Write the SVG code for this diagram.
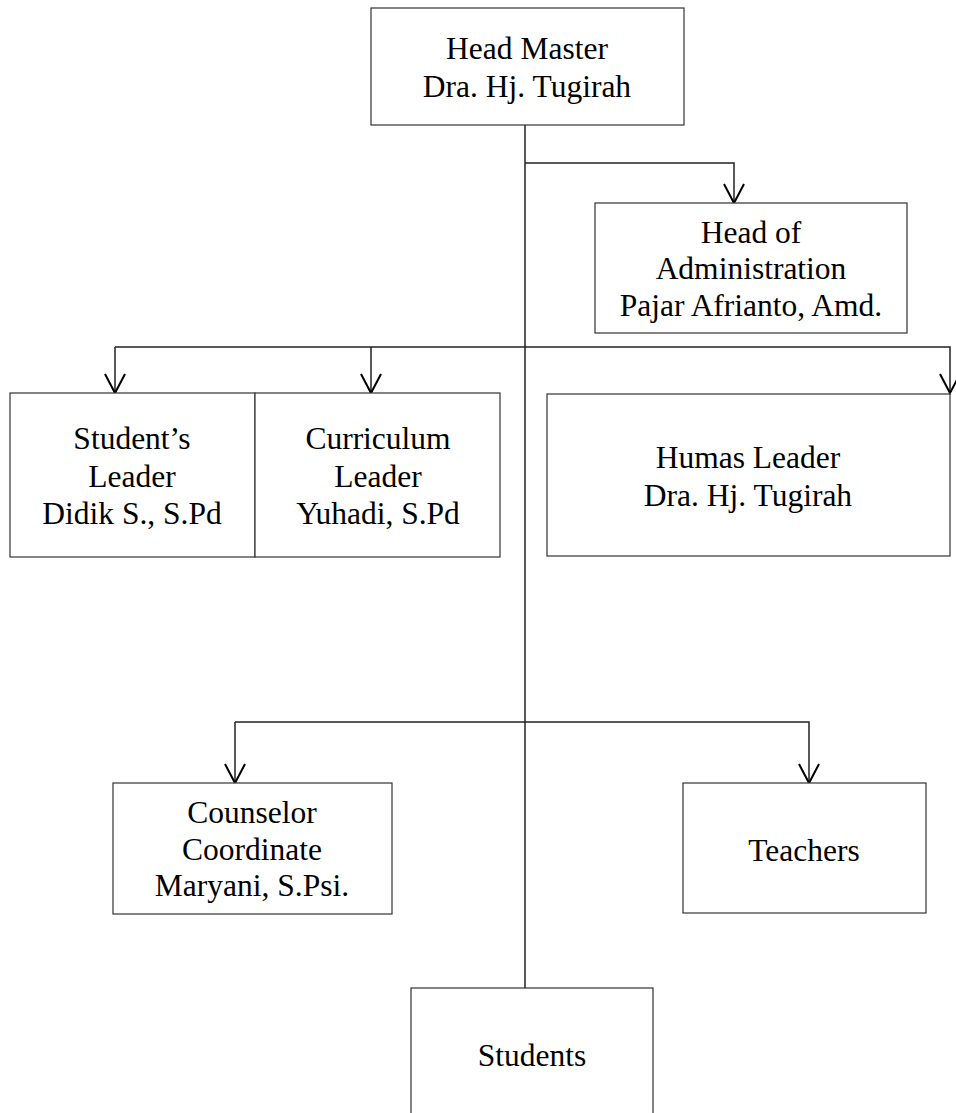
<svg xmlns="http://www.w3.org/2000/svg" width="956" height="1113" viewBox="0 0 956 1113">
<style>
.box{fill:#fff;stroke:#333;stroke-width:1.2}
.t{font-family:"Liberation Serif","Times New Roman",serif;font-size:31.5px;fill:#000;text-anchor:middle}
.c{fill:none;stroke:#222;stroke-width:1.5}
.a{fill:none;stroke:#000;stroke-width:2}
</style>
<rect width="956" height="1113" fill="#fff"/>
<g id="connectors">
<path class="c" d="M525 125V988"/>
<path class="c" d="M525 163H734V203"/>
<path class="c" d="M115 347H950V393"/>
<path class="c" d="M115 347V393M371 347V393"/>
<path class="c" d="M235 722H809V783"/>
<path class="c" d="M235 722V783"/>
<path class="a" d="M724 184L734 203L744 184"/>
<path class="a" d="M105 374L115 393L125 374"/>
<path class="a" d="M361 374L371 393L381 374"/>
<path class="a" d="M940 374L950 393L960 374"/>
<path class="a" d="M225 764L235 783L245 764"/>
<path class="a" d="M799 764L809 783L819 764"/>
</g>
<g id="head-master">
<rect class="box" x="371" y="8" width="313" height="117"/>
<text class="t" x="527" y="59">Head Master</text>
<text class="t" x="527" y="97">Dra. Hj. Tugirah</text>
</g>
<g id="head-admin">
<rect class="box" x="595" y="203" width="312" height="130"/>
<text class="t" x="751" y="243">Head of</text>
<text class="t" x="751" y="279">Administration</text>
<text class="t" x="751" y="316">Pajar Afrianto, Amd.</text>
</g>
<g id="student-leader">
<rect class="box" x="10" y="393" width="245" height="164"/>
<text class="t" x="132" y="449">Student’s</text>
<text class="t" x="132" y="487">Leader</text>
<text class="t" x="132" y="524">Didik S., S.Pd</text>
</g>
<g id="curriculum-leader">
<rect class="box" x="255" y="393" width="245" height="164"/>
<text class="t" x="378" y="449">Curriculum</text>
<text class="t" x="378" y="487">Leader</text>
<text class="t" x="378" y="524">Yuhadi, S.Pd</text>
</g>
<g id="humas-leader">
<rect class="box" x="547" y="394" width="403" height="162"/>
<text class="t" x="748" y="468">Humas Leader</text>
<text class="t" x="748" y="506">Dra. Hj. Tugirah</text>
</g>
<g id="counselor">
<rect class="box" x="113" y="783" width="279" height="131"/>
<text class="t" x="252" y="823">Counselor</text>
<text class="t" x="252" y="860">Coordinate</text>
<text class="t" x="252" y="896">Maryani, S.Psi.</text>
</g>
<g id="teachers">
<rect class="box" x="683" y="783" width="243" height="130"/>
<text class="t" x="804" y="861">Teachers</text>
</g>
<g id="students">
<rect class="box" x="411" y="988" width="242" height="140"/>
<text class="t" x="532" y="1066">Students</text>
</g>
</svg>
